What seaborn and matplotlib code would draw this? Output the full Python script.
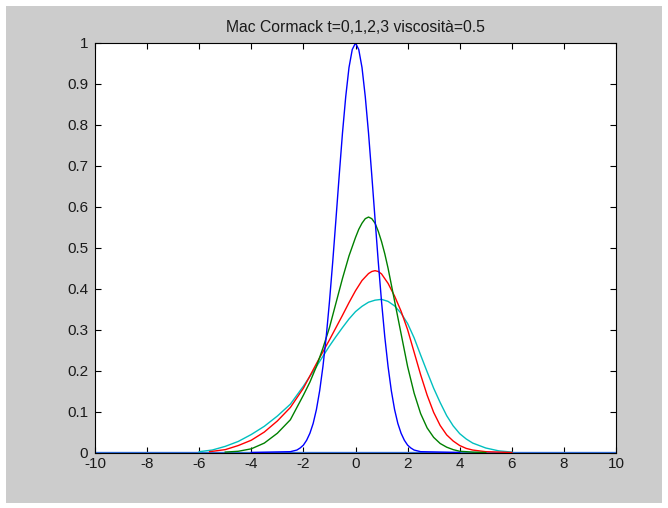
import matplotlib
matplotlib.use("Agg")
import matplotlib.pyplot as plt
from matplotlib.patches import Rectangle
import seaborn as sns
import pandas as pd

# ---- data ----
title = "Mac Cormack t=0,1,2,3 viscosità=0.5"

base_x = [-10, 10]
base_y = [0, 0]

blue_x = [-4.0, -2.5, -2.25, -2.125, -2.0, -1.875, -1.75, -1.625, -1.5, -1.375, -1.25,
          -1.125, -1.0, -0.875, -0.75, -0.625, -0.5, -0.375, -0.25, -0.125, 0.0,
          0.125, 0.25, 0.375, 0.5, 0.625, 0.75, 0.875, 1.0, 1.125, 1.25, 1.375, 1.5,
          1.625, 1.75, 1.875, 2.0, 2.125, 2.25, 2.5, 4.0]
blue_y = [0.0, 0.002, 0.006, 0.011, 0.018, 0.030, 0.047, 0.071, 0.105, 0.151, 0.21,
          0.282, 0.368, 0.465, 0.57, 0.677, 0.78, 0.869, 0.94, 0.984, 1.0,
          0.984, 0.94, 0.869, 0.78, 0.677, 0.57, 0.465, 0.368, 0.282, 0.21, 0.151, 0.105,
          0.071, 0.047, 0.030, 0.018, 0.011, 0.006, 0.002, 0.0]

green_x = [-5.0, -4.5, -4.0, -3.5, -3.0, -2.5, -2.0, -1.75, -1.5, -1.25, -1.0, -0.75,
           -0.5, -0.25, 0.0, 0.125, 0.25, 0.375, 0.5, 0.625, 0.75, 0.875, 1.0, 1.125,
           1.25, 1.375, 1.5, 1.75, 2.0, 2.25, 2.5, 2.75, 3.0, 3.25, 3.5, 3.75, 4.0,
           4.5, 5.0]
green_y = [0.001, 0.003, 0.009, 0.023, 0.047, 0.080, 0.140, 0.172, 0.21, 0.255, 0.305, 0.365,
           0.425, 0.48, 0.525, 0.545, 0.56, 0.571, 0.575, 0.571, 0.56, 0.54, 0.515, 0.485,
           0.45, 0.41, 0.37, 0.29, 0.21, 0.145, 0.095, 0.06, 0.037, 0.022, 0.013, 0.007, 0.003,
           0.001, 0.0]

red_x = [-5.6, -5.0, -4.5, -4.0, -3.5, -3.0, -2.5, -2.0, -1.5, -1.0, -0.5, -0.25, 0.0,
         0.25, 0.5, 0.625, 0.75, 0.875, 1.0, 1.25, 1.5, 1.75, 2.0, 2.25, 2.5, 2.75,
         3.0, 3.25, 3.5, 3.75, 4.0, 4.25, 4.5, 5.0, 5.5, 6.0]
red_y = [0.002, 0.007, 0.017, 0.03, 0.05, 0.077, 0.11, 0.157, 0.217, 0.275, 0.335, 0.366, 0.395,
         0.42, 0.437, 0.442, 0.444, 0.442, 0.436, 0.413, 0.382, 0.345, 0.30, 0.245, 0.19, 0.14,
         0.098, 0.066, 0.043, 0.028, 0.017, 0.01, 0.006, 0.002, 0.001, 0.0]

cyan_x = [-6.0, -5.5, -5.0, -4.5, -4.0, -3.5, -3.0, -2.5, -2.0, -1.5, -1.0, -0.75, -0.5,
          -0.25, 0.0, 0.25, 0.5, 0.75, 1.0, 1.25, 1.5, 1.75, 2.0, 2.25, 2.5, 2.75, 3.0,
          3.25, 3.5, 3.75, 4.0, 4.25, 4.5, 5.0, 5.5, 6.0]
cyan_y = [0.002, 0.006, 0.015, 0.027, 0.044, 0.064, 0.089, 0.118, 0.162, 0.21, 0.26, 0.283, 0.305,
          0.326, 0.344, 0.357, 0.367, 0.372, 0.374, 0.369, 0.358, 0.34, 0.315, 0.28, 0.238, 0.197, 0.157,
          0.122, 0.09, 0.065, 0.046, 0.033, 0.023, 0.011, 0.004, 0.001]

xticks = [-10, -8, -6, -4, -2, 0, 2, 4, 6, 8, 10]
yticks = [0, 0.1, 0.2, 0.3, 0.4, 0.5, 0.6, 0.7, 0.8, 0.9, 1]
ytick_labels = ["0", "0.1", "0.2", "0.3", "0.4", "0.5", "0.6", "0.7", "0.8", "0.9", "1"]

# ---- styling ----
plt.rcParams['font.family'] = ['Liberation Sans', 'DejaVu Sans']
plt.rcParams['font.size'] = 11

W, H = 668, 508
fig = plt.figure(figsize=(W / 100, H / 100), dpi=100, facecolor="white")
bg = Rectangle((6 / W, 5 / H), (662 - 6) / W, (502 - 5) / H,
               transform=fig.transFigure, facecolor="#cccccc",
               edgecolor="none", zorder=-10)
fig.add_artist(bg)

ax = fig.add_axes([95 / W, (H - 452.5) / H, (616 - 95) / W, (452.5 - 43) / H])
ax.set_zorder(1)
ax.set_facecolor("white")

sns.lineplot(x=base_x, y=base_y, ax=ax, color="#2f6fdc", lw=2.4, sort=False)
series = [
    (cyan_x, cyan_y, "#00bfbf"),
    (red_x, red_y, "#ff0000"),
    (green_x, green_y, "#008000"),
    (blue_x, blue_y, "#0000ff"),
]
for xs, ys, c in series:
    df = pd.DataFrame({"x": xs, "y": ys})
    sns.lineplot(data=df, x="x", y="y", ax=ax, color=c, lw=1.0, sort=False)

ax.set_xlim(-10, 10)
ax.set_ylim(0, 1)
ax.set_xticks(xticks)
ax.set_xticklabels([str(t) for t in xticks])
ax.set_yticks(yticks)
ax.set_yticklabels(ytick_labels)
ax.set_xlabel("")
ax.set_ylabel("")
ax.tick_params(direction="in", length=4, width=0.8, top=True, right=True,
               colors="black", labelcolor="#1a1a1a", labelsize=11)
ax.tick_params(axis="x", pad=3)
ax.tick_params(axis="y", pad=5)
for s in ax.spines.values():
    s.set_color("black")
    s.set_linewidth(0.8)
ax.set_title(title, fontsize=11.3, color="#1a1a1a", pad=8)

fig.savefig("out.png", dpi=100, facecolor=fig.get_facecolor())
